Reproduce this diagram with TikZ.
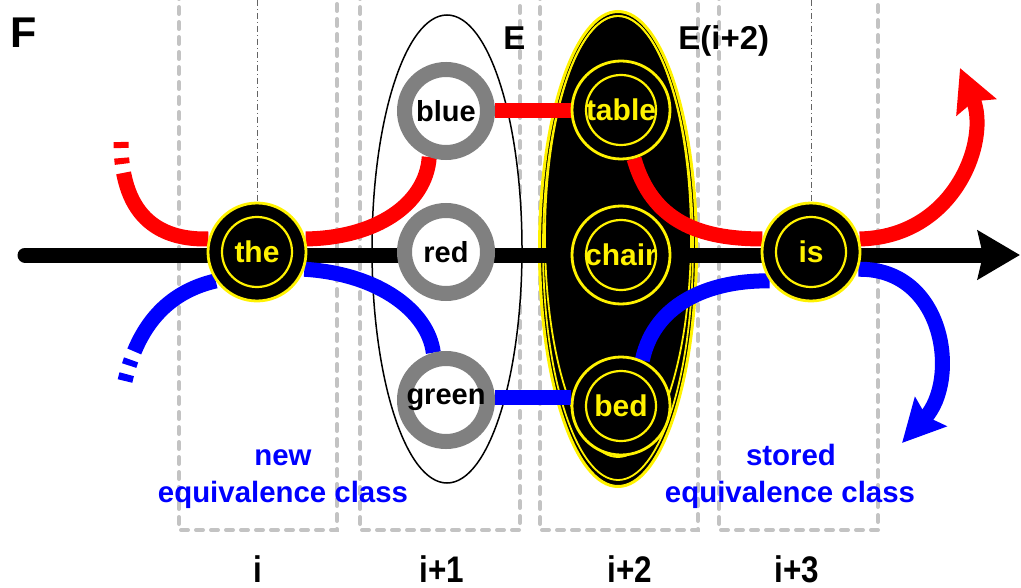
\documentclass[tikz,border=0pt]{standalone}
\usepackage{fontspec}
\setmainfont{Liberation Sans}
\usetikzlibrary{arrows.meta,shapes.geometric}
\pgfdeclarelayer{bgA}
\pgfdeclarelayer{bgB}
\pgfsetlayers{bgA,bgB,main}
\definecolor{boxgray}{RGB}{195,195,195}
\definecolor{ringgray}{RGB}{128,128,128}
\definecolor{dashgray}{RGB}{100,100,100}
\begin{document}
\begin{tikzpicture}[x=0.5pt,y=-0.5pt,
  every node/.style={inner sep=0pt},
  wordnode/.style={circle, fill=black, draw=yellow, line width=1.4pt, minimum size=49pt,
    text=yellow, font=\bfseries\fontsize{15}{17}\selectfont,
    path picture={\draw[yellow,line width=1.1pt] (path picture bounding box.center) circle[radius=17.5pt];}},
  ringnode/.style={circle, fill=white, draw=ringgray, line width=7.5pt, minimum size=41.5pt,
    text=black, font=\bfseries\fontsize{14.5}{17}\selectfont},
  boxline/.style={draw=boxgray, line width=2pt, line cap=round, dash pattern=on 3.5pt off 4pt},
  dashdotline/.style={draw=dashgray, line width=0.5pt, dash pattern=on 3pt off 1.5pt on 0.5pt off 1.5pt},
  mainline/.style={draw=black, line width=7.5pt, line cap=round, -{Stealth[length=21pt,width=24pt,inset=2.5pt]}},
  redline/.style={draw=red, line width=7.5pt},
  blueline/.style={draw=blue, line width=7.5pt},
  colarrow/.style={-{Stealth[length=21pt,width=21pt,inset=3pt]}},
  bluetext/.style={text=blue, font=\bfseries\fontsize{14.7}{17}\selectfont, anchor=base},
  coltext/.style={text=black, font=\bfseries\fontsize{18.5}{21}\selectfont, anchor=base},
  bigtext/.style={text=black, font=\bfseries\fontsize{16.5}{19}\selectfont, anchor=base west}
]
\useasboundingbox (0,0) rectangle (1021,588);

% word nodes
\node[wordnode] (the) at (257,252) {the};
\node[wordnode] (is) at (811,252) {is};
\node[wordnode] (table) at (621,110) {table};
\node[wordnode] (chair) at (621,255) {chair};
\node[wordnode] (bed) at (621,406) {bed};
\node[ringnode] (blue) at (446,111) {blue};
\node[ringnode] (red) at (446,252) {red};
\node[ringnode] (green) at (446,400) {green};

% texts
\node[anchor=base west, text=black, font=\bfseries\fontsize{21.5}{24}\selectfont] (lblF) at (10,48) {F};
\node[bigtext] (lblE) at (503,50) {E};
\node[bigtext] (lblEi) at (678,50) {E(i+2)};
\node[bluetext] (newA) at (283,465) {new};
\node[bluetext] (newB) at (283,502) {equivalence class};
\node[bluetext] (stA) at (791,465) {stored};
\node[bluetext] (stB) at (790,502) {equivalence class};
\node[coltext] (ci) at (258,582) {\scalebox{0.85}[1]{i}};
\node[coltext] (ci1) at (442,582) {\scalebox{0.85}[1]{i+1}};
\node[coltext] (ci2) at (630,582) {\scalebox{0.85}[1]{i+2}};
\node[coltext] (ci3) at (797,582) {\scalebox{0.85}[1]{i+3}};

\begin{pgfonlayer}{bgA}
  % column boxes
  \draw[boxline] (179,-8) |- (337,530) -- (337,-8);
  \draw[boxline] (360,-8) |- (520,530) -- (520,-8);
  \draw[boxline] (540,-8) |- (698,530) -- (698,-8);
  \draw[boxline] (719,-8) |- (878,530) -- (878,-8);
  \coordinate (dtA) at (257,0);
  \coordinate (dtB) at (811,0);
  \draw[dashdotline] (dtA) -- (the.north);
  \draw[dashdotline] (dtB) -- (is.north);
  % equivalence ellipses
  \node[ellipse, fill=white, draw=black, line width=0.75pt, minimum width=75pt, minimum height=234pt] (ellE) at (447,249) {};
  \node[ellipse, fill=black, draw=yellow, line width=1.5pt, minimum width=78.5pt, minimum height=237.5pt] (ellF) at (618,249) {};
  \node[ellipse, draw=yellow, line width=0.9pt, minimum width=75pt, minimum height=232pt] (ellFi) at (618,248) {};
  \node[ellipse, draw=yellow, line width=0.9pt, minimum width=73pt, minimum height=220.5pt] (ellFc) at (618,236.5) {};
\end{pgfonlayer}

\begin{pgfonlayer}{bgB}
  \coordinate (ms) at (25,255);
  \coordinate (me) at (1020,255);
  \draw[mainline] (ms) -- (me);
  % red path
  \coordinate (rs) at (121,142);
  \draw[redline, dash pattern=on 3pt off 5pt on 3pt off 4.5pt on 600pt]
    (rs) .. controls (121,222) and (165,240) .. (the.165);
  \draw[redline] (the.15) .. controls (375,238) and (426,205) .. (blue.250);
  \draw[redline] (blue.east) -- (blue.east -| table.west);
  \draw[redline] (table.285) .. controls (652,222) and (700,239) .. (is.165);
  \coordinate (rtip) at (960,68);
  \draw[redline, colarrow] (is.15) .. controls (955,237) and (990,140) .. (rtip);
  % blue path
  \coordinate (bs) at (125,381);
  \draw[blueline, dash pattern=on 3.5pt off 4.5pt on 3pt off 4.5pt on 600pt]
    (bs) .. controls (138,325) and (168,292) .. (the.215);
  \draw[blueline] (the.340) .. controls (380,274) and (428,312) .. (green.105);
  \draw[blueline] ([yshift=1.5pt]green.east) -- ([yshift=1.5pt]green.east -| bed.west);
  \draw[blueline] (bed.65) .. controls (655,300) and (715,280) .. (is.215);
  \coordinate (btip) at (902,443);
  \draw[blueline, colarrow] (is.340) .. controls (945,268) and (960,380) .. (btip);
\end{pgfonlayer}
\end{tikzpicture}
\end{document}
